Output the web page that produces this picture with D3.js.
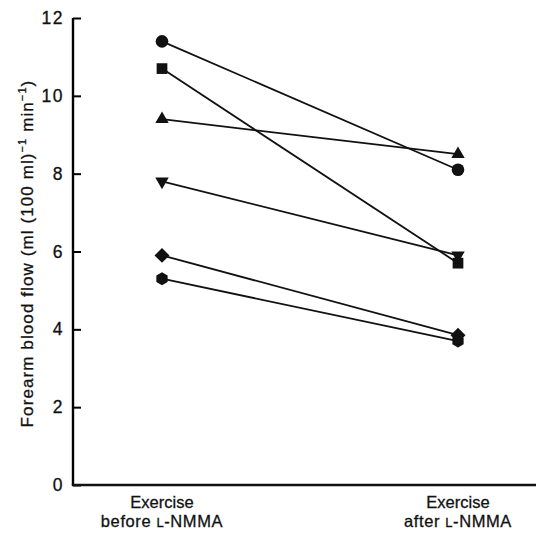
<!DOCTYPE html>
<html>
<head>
<meta charset="utf-8">
<script src="https://cdn.jsdelivr.net/npm/d3@7"></script>
<style>
	body { margin: 0; background: #fff; }
	text { font-family: "Liberation Sans", Arial, sans-serif; fill: #111; stroke: #111; stroke-width: 0.3; }
</style>
</head>
<body>
<div id="chart"></div>
<script>
// Forearm blood flow, before and after L-NMMA (one line per subject)

const conditions = ["before", "after"];
const subjects = ["circle", "square", "triangle", "triangleDown", "diamond", "hexagon"];
const beforeFlow = [11.4, 10.7, 9.4, 7.8, 5.9, 5.3];
const afterFlow = [8.1, 5.7, 8.5, 5.9, 3.85, 3.7];
const yTicks = [0, 2, 4, 6, 8, 10, 12];

const width = 536, height = 537;
const margin = { top: 18, right: 0, bottom: 52, left: 73 };

let svg = d3.select("#chart")
	.append("svg")
	.attr("width", width)
	.attr("height", height)
	.attr("viewBox", [0, 0, width, height]);

let x = d3.scalePoint()
	.domain(conditions)
	.range([162, 458]);

let y = d3.scaleLinear()
	.domain([0, 12])
	.range([height - margin.bottom, margin.top]);

// hexagon symbol, points left/right
const symbolHexagon = {
	draw(context, size) {
		const r = Math.sqrt(size / (1.5 * Math.sqrt(3)));
		for (let i = 0; i < 6; i++) {
			const a = Math.PI / 6 + i * Math.PI / 3;
			const px = r * Math.cos(a), py = r * Math.sin(a);
			if (i === 0) context.moveTo(px, py); else context.lineTo(px, py);
		}
		context.closePath();
	}
};

const shapes = {
	circle: { type: d3.symbolCircle, size: 125, rotate: 0 },
	square: { type: d3.symbolSquare, size: 115, rotate: 0 },
	triangle: { type: d3.symbolTriangle, size: 78, rotate: 0 },
	triangleDown: { type: d3.symbolTriangle, size: 78, rotate: 180 },
	diamond: { type: d3.symbolSquare, size: 112, rotate: 45 },
	hexagon: { type: symbolHexagon, size: 110, rotate: 0 }
};

let rows = subjects.map((s, i) => ({
	shape: s,
	values: [
		{ cond: "before", v: beforeFlow[i] },
		{ cond: "after", v: afterFlow[i] }
	]
}));

// axes
let yAxis = g => g
	.attr("transform", `translate(${margin.left},0)`)
	.call(d3.axisRight(y).tickValues(yTicks).tickSize(8).tickFormat(d3.format("d")))
	.call(g => g.select(".domain")
		.attr("stroke-width", 2.4)
		.attr("d", `M0,${margin.top}V${y(0)}`))
	.call(g => g.selectAll(".tick line").attr("stroke-width", 2))
	.call(g => g.selectAll(".tick text")
		.attr("x", -9)
		.attr("text-anchor", "end")
		.attr("font-size", 17.5)
		.attr("letter-spacing", 1.5)
		.attr("font-family", null)
		.attr("fill", "#111"));

svg.append("g").call(yAxis);

svg.append("line")
	.attr("x1", margin.left - 1.2)
	.attr("x2", width - margin.right)
	.attr("y1", y(0))
	.attr("y2", y(0))
	.attr("stroke", "#111")
	.attr("stroke-width", 2.6);

// y title
let ytitle = svg.append("text")
	.attr("transform", `translate(33,${(y(0) + y(12)) / 2 + 2}) rotate(-90)`)
	.attr("text-anchor", "middle")
	.attr("font-size", 17)
	.attr("letter-spacing", 1.1);
ytitle.append("tspan").text("Forearm blood flow (ml (100 ml)");
ytitle.append("tspan").attr("font-size", 11).attr("dy", -7).text("−1");
ytitle.append("tspan").attr("dy", 7).text(" min");
ytitle.append("tspan").attr("font-size", 11).attr("dy", -7).text("−1");
ytitle.append("tspan").attr("dy", 7).text(")");

// x labels
const xLabels = { before: "before ", after: "after " };
conditions.forEach(c => {
	let t = svg.append("text")
		.attr("x", x(c))
		.attr("text-anchor", "middle")
		.attr("font-size", 16.5);
	t.append("tspan").attr("x", x(c)).attr("y", 508).text("Exercise");
	let t2 = t.append("tspan").attr("x", x(c)).attr("y", 527).attr("letter-spacing", 0.6);
	t2.append("tspan").text(xLabels[c]);
	t2.append("tspan").attr("font-size", 13).text("L");
	t2.append("tspan").text("-NMMA");
});

// lines
let line = d3.line()
	.x(d => x(d.cond))
	.y(d => y(d.v));

svg.append("g")
	.selectAll("path")
	.data(rows)
	.join("path")
	.attr("d", d => line(d.values))
	.attr("fill", "none")
	.attr("stroke", "#111")
	.attr("stroke-width", 1.8);

// markers
svg.append("g")
	.selectAll("path")
	.data(rows.flatMap(r => r.values.map(v => ({ shape: r.shape, ...v }))))
	.join("path")
	.attr("transform", d => `translate(${x(d.cond)},${y(d.v)}) rotate(${shapes[d.shape].rotate})`)
	.attr("d", d => d3.symbol(shapes[d.shape].type, shapes[d.shape].size)())
	.attr("fill", "#111");
</script>
</body>
</html>
